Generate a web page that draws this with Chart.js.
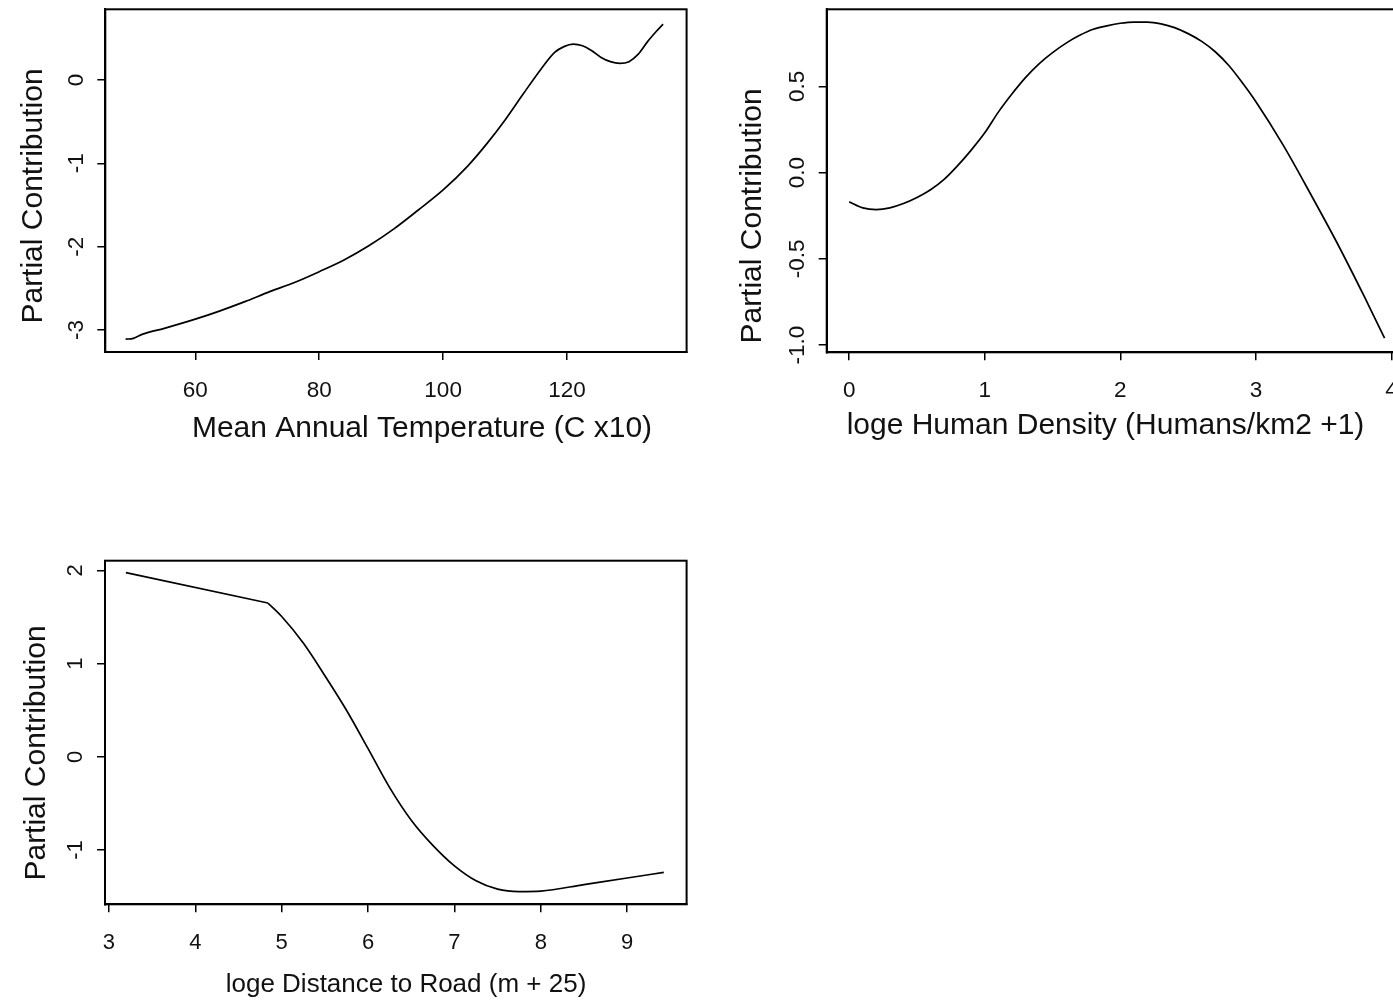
<!DOCTYPE html>
<html><head><meta charset="utf-8">
<script src="https://cdn.jsdelivr.net/npm/chart.js@4.4.1/dist/chart.umd.min.js"></script>
<style>
html,body{margin:0;padding:0;background:#fff;overflow:hidden;width:1393px;height:1001px;position:relative;}
canvas{position:absolute;}
</style></head><body>
<canvas id="c1" width="700" height="470" style="left:0;top:0"></canvas>
<canvas id="c2" width="720" height="470" style="left:720px;top:0"></canvas>
<canvas id="c3" width="700" height="461" style="left:0;top:540px"></canvas>
<script>
// ---- Panel 1: Mean Annual Temperature ----
const tempX = [48.75, 50.0, 51.5, 55.0, 60.0, 64.0, 68.0, 72.0, 76.0, 80.0, 84.0, 88.0, 92.0, 96.0, 100.0, 104.0, 107.0, 110.0, 113.0, 115.7, 118.0, 119.5, 121.0, 122.5, 124.0, 125.5, 127.0, 128.5, 130.0, 131.5, 133.0, 134.5, 135.5];
const tempY = [-3.11, -3.10, -3.05, -2.98, -2.87, -2.77, -2.66, -2.54, -2.43, -2.30, -2.16, -1.99, -1.79, -1.56, -1.32, -1.03, -0.77, -0.48, -0.16, 0.12, 0.33, 0.40, 0.43, 0.41, 0.35, 0.27, 0.22, 0.20, 0.22, 0.31, 0.46, 0.59, 0.67];
const tempXTicks = [60, 80, 100, 120];
const tempYTicks = [-3, -2, -1, 0];

// ---- Panel 2: Human Density ----
const densX = [0.0, 0.1, 0.2, 0.3, 0.4, 0.5, 0.6, 0.7, 0.8, 0.9, 1.0, 1.1, 1.2, 1.3, 1.4, 1.5, 1.6, 1.7, 1.8, 1.9, 2.0, 2.1, 2.2, 2.3, 2.4, 2.5, 2.6, 2.7, 2.8, 2.9, 3.0, 3.2, 3.4, 3.6, 3.8, 3.949];
const densY = [-0.17, -0.205, -0.215, -0.205, -0.18, -0.145, -0.10, -0.04, 0.04, 0.13, 0.23, 0.35, 0.455, 0.55, 0.63, 0.695, 0.75, 0.795, 0.83, 0.85, 0.865, 0.872, 0.872, 0.862, 0.84, 0.805, 0.76, 0.70, 0.62, 0.52, 0.41, 0.16, -0.12, -0.41, -0.72, -0.96];
const densXTicks = [0, 1, 2, 3, 4];
const densYTicks = [-1.0, -0.5, 0.0, 0.5];

// ---- Panel 3: Distance to Road ----
const roadX = [3.196, 4.84, 5.0, 5.25, 5.5, 5.75, 6.0, 6.25, 6.5, 6.75, 7.0, 7.25, 7.5, 7.75, 8.0, 8.5, 9.0, 9.424];
const roadY = [1.976, 1.65, 1.505, 1.22, 0.87, 0.50, 0.088, -0.33, -0.68, -0.95, -1.17, -1.33, -1.42, -1.445, -1.44, -1.37, -1.30, -1.239];
const roadKink = 1; // index where the straight segment ends
const roadXTicks = [3, 4, 5, 6, 7, 8, 9];
const roadYTicks = [-1, 0, 1, 2];

const yTitle = 'Partial Contribution';

function textPlugin(s) {
  return {
    id: 'rtext',
    afterDraw(chart) {
      const {ctx, chartArea: a} = chart;
      const xs = chart.scales.x, ys = chart.scales.y;
      ctx.save();
      ctx.strokeStyle = '#000';
      ctx.lineWidth = 2;
      ctx.strokeRect(a.left, a.top, a.right - a.left, a.bottom - a.top);
      ctx.fillStyle = '#111';
      ctx.textAlign = 'center';
      ctx.textBaseline = 'alphabetic';
      ctx.font = s.tickFont;
      s.xTicks.forEach(v => ctx.fillText(s.xFmt(v), xs.getPixelForValue(v), s.xLabelBase));
      s.yTicks.forEach(v => {
        ctx.save();
        ctx.translate(s.yLabelBase, ys.getPixelForValue(v));
        ctx.rotate(-Math.PI / 2);
        ctx.fillText(s.yFmt(v), 0, 0);
        ctx.restore();
      });
      ctx.font = s.xTitleFont;
      ctx.fillText(s.xTitle, s.xTitleX, s.xTitleBase);
      ctx.font = s.yTitleFont;
      ctx.save();
      ctx.translate(s.yTitleBase, s.yTitleY);
      ctx.rotate(-Math.PI / 2);
      ctx.fillText(yTitle, 0, 0);
      ctx.restore();
      ctx.restore();
    }
  };
}

function lineSet(xv, yv, tension) {
  return {
    data: xv.map((x, i) => ({x: x, y: yv[i]})),
    borderColor: '#000', borderWidth: 1.7, pointRadius: 0, fill: false,
    cubicInterpolationMode: tension ? 'monotone' : 'default', tension: 0
  };
}

function panel(id, datasets, xTicks, yTicks, xr, yr, area, s) {
  const axisCommon = (ticks, sizeKey, size) => ({
    type: 'linear',
    grid: {display: true, drawOnChartArea: false, drawTicks: true, tickLength: 8, color: '#000', lineWidth: 1.5},
    border: {display: true, color: '#000', width: 2},
    ticks: {display: false},
    afterBuildTicks: ax => { ax.ticks = ticks.map(v => ({value: v})); },
    afterFit: ax => { ax[sizeKey] = size; }
  });
  const xOpt = Object.assign(axisCommon(xTicks, 'height', area.xh), {min: xr[0], max: xr[1], position: 'bottom'});
  const yOpt = Object.assign(axisCommon(yTicks, 'width', area.yw), {min: yr[0], max: yr[1], position: 'left'});
  new Chart(document.getElementById(id), {
    type: 'line',
    data: {datasets: datasets},
    options: {
      responsive: false, animation: false, devicePixelRatio: 1,
      layout: {padding: {left: 0, top: area.top, right: area.right, bottom: 0}},
      plugins: {legend: {display: false}, tooltip: {enabled: false}},
      scales: {x: xOpt, y: yOpt}
    },
    plugins: [textPlugin(s)]
  });
}

const intFmt = v => String(v);
const oneDec = v => v.toFixed(1);
const F = (px) => px + 'px "Liberation Sans", Arial, sans-serif';

panel('c1', [lineSet(tempX, tempY, true)], tempXTicks, tempYTicks, [45.47, 139.3], [-3.264, 0.848],
  {top: 9.3, right: 13.4, yw: 105.3, xh: 118},
  {xFmt: intFmt, yFmt: intFmt, xTicks: tempXTicks, yTicks: tempYTicks, tickFont: F(22.5),
   xLabelBase: 397, yLabelBase: 83,
   xTitle: 'Mean Annual Temperature (C x10)', xTitleFont: F(30), xTitleX: 422, xTitleBase: 437,
   yTitleFont: F(30), yTitleBase: 42, yTitleY: 196});

panel('c2', [lineSet(densX, densY, true)], densXTicks, densYTicks, [-0.166, 4.107], [-1.042, 0.946],
  {top: 9.3, right: 34, yw: 106.7, xh: 117.7},
  {xFmt: intFmt, yFmt: oneDec, xTicks: densXTicks, yTicks: densYTicks, tickFont: F(22.5),
   xLabelBase: 397, yLabelBase: 83.5,
   xTitle: 'loge Human Density (Humans/km2 +1)', xTitleFont: F(30), xTitleX: 385.5, xTitleBase: 434,
   yTitleFont: F(30), yTitleBase: 41, yTitleY: 216});

panel('c3', [
    lineSet(roadX.slice(0, roadKink + 1), roadY.slice(0, roadKink + 1), false),
    lineSet(roadX.slice(roadKink), roadY.slice(roadKink), true)
  ], roadXTicks, roadYTicks, [2.954, 9.688], [-1.582, 2.104],
  {top: 20.7, right: 13.4, yw: 105, xh: 96.7},
  {xFmt: intFmt, yFmt: intFmt, xTicks: roadXTicks, yTicks: roadYTicks, tickFont: F(22),
   xLabelBase: 409, yLabelBase: 82,
   xTitle: 'loge Distance to Road (m + 25)', xTitleFont: F(26), xTitleX: 406, xTitleBase: 452,
   yTitleFont: F(30), yTitleBase: 45, yTitleY: 213});
</script>
</body></html>
